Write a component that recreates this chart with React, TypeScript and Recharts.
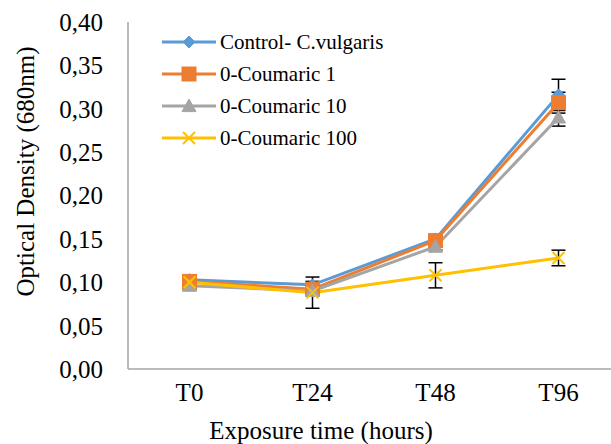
import React from 'react';
import { LineChart, Line, XAxis, YAxis, ErrorBar } from 'recharts';

const categories = ['T0', 'T24', 'T48', 'T96'];
const controlValues = [0.103, 0.097, 0.150, 0.316];
const coumaric1Values = [0.101, 0.092, 0.148, 0.307];
const coumaric10Values = [0.096, 0.090, 0.141, 0.290];
const coumaric100Values = [0.100, 0.088, 0.108, 0.128];
const controlErrors = [0.004, 0.004, 0.004, 0.018];
const coumaric1Errors = [0.004, 0.004, 0.004, 0.012];
const coumaric10Errors = [0.004, 0.004, 0.004, 0.010];
const coumaric100Errors = [0.003, 0.018, 0.0145, 0.009];
const yTicks = [0, 0.05, 0.1, 0.15, 0.2, 0.25, 0.3, 0.35, 0.4];

const seriesNames = ['Control- C.vulgaris', '0-Coumaric 1', '0-Coumaric 10', '0-Coumaric 100'];
const colors = ['#5B9BD5', '#ED7D31', '#A5A5A5', '#FFC000'];
const markers = ['diamond', 'square', 'triangle', 'x'];

const data = categories.map((c, i) => ({
  cat: c,
  s0: controlValues[i],
  s1: coumaric1Values[i],
  s2: coumaric10Values[i],
  s3: coumaric100Values[i],
  e0: controlErrors[i],
  e1: coumaric1Errors[i],
  e2: coumaric10Errors[i],
  e3: coumaric100Errors[i],
}));

const FONT = '"Liberation Serif", "Times New Roman", serif';

function Marker({ kind, cx, cy, color }: { kind: string; cx: number; cy: number; color: string }) {
  if (cx == null || cy == null) return null;
  if (kind === 'diamond') {
    const r = 6;
    return <polygon points={`${cx},${cy - r} ${cx + r},${cy} ${cx},${cy + r} ${cx - r},${cy}`} fill={color} stroke={color} strokeWidth={1} />;
  }
  if (kind === 'square') {
    const r = 7;
    return <rect x={cx - r} y={cy - r} width={2 * r} height={2 * r} fill={color} stroke={color} />;
  }
  if (kind === 'triangle') {
    const r = 7;
    return <polygon points={`${cx},${cy - r} ${cx + r},${cy + r * 0.8} ${cx - r},${cy + r * 0.8}`} fill={color} stroke={color} />;
  }
  const r = 6;
  return (
    <g stroke={color} strokeWidth={2}>
      <line x1={cx - r} y1={cy - r} x2={cx + r} y2={cy + r} />
      <line x1={cx - r} y1={cy + r} x2={cx + r} y2={cy - r} />
    </g>
  );
}

const makeDot = (idx: number) => (props: any) => (
  <Marker key={`m${idx}-${props.index}`} kind={markers[idx]} cx={props.cx} cy={props.cy} color={colors[idx]} />
);

const YLabel = (props: any) => {
  const vb = props.viewBox || { x: 0, y: 22, width: 128, height: 347 };
  const cx = vb.x + 25;
  const cy = vb.y + vb.height / 2 - 24;
  return (
    <text x={cx} y={cy} transform={`rotate(-90, ${cx}, ${cy})`} textAnchor="middle" dominantBaseline="central"
      fontFamily={FONT} fontSize={25} fill="#000">
      Optical Density (680nm)
    </text>
  );
};

const XLabel = (props: any) => {
  const vb = props.viewBox || { x: 128, y: 369, width: 492, height: 75 };
  const cx = vb.x + vb.width / 2 - 53;
  const cy = vb.y + 61;
  return (
    <text x={cx} y={cy} textAnchor="middle" dominantBaseline="central" fontFamily={FONT} fontSize={25} fill="#000">
      Exposure time (hours)
    </text>
  );
};

const LegendBox = () => (
  <div style={{ position: 'absolute', left: 160, top: 26, fontFamily: FONT, fontSize: 21, color: '#000', lineHeight: '32px' }}>
    {seriesNames.map((n, i) => (
      <div key={n} style={{ display: 'flex', alignItems: 'center', height: 32 }}>
        <svg width={58} height={20} style={{ marginRight: 2 }}>
          <line x1={2} y1={10} x2={56} y2={10} stroke={colors[i]} strokeWidth={3} />
          <Marker kind={markers[i]} cx={29} cy={10} color={colors[i]} />
        </svg>
        <span style={{ whiteSpace: 'nowrap' }}>{n}</span>
      </div>
    ))}
  </div>
);

export default function App() {
  return (
    <div style={{ position: 'fixed', left: 0, top: 0, width: 611, height: 444, overflow: 'hidden', background: '#fff' }}>
      <LineChart width={640} height={444} data={data} margin={{ top: 22, right: 20, bottom: 0, left: 0 }}>
        <XAxis
          dataKey="cat"
          height={75}
          interval={0}
          padding={{ left: 61.5, right: 61.5 }}
          tickLine={false}
          tickSize={0}
          tickMargin={14}
          axisLine={{ stroke: '#A6A6A6', strokeWidth: 1.5 }}
          tick={{ fontFamily: FONT, fontSize: 25, fill: '#000' }}
          label={<XLabel />}
        />
        <YAxis
          width={128}
          domain={[0, 0.4]}
          ticks={yTicks}
          interval={0}
          tickLine={false}
          tickSize={0}
          tickMargin={25}
          axisLine={{ stroke: '#A6A6A6', strokeWidth: 1.5 }}
          tick={{ fontFamily: FONT, fontSize: 25, fill: '#000' }}
          tickFormatter={(v: number) => v.toFixed(2).replace('.', ',')}
          label={<YLabel />}
        />
        {[0, 1, 2, 3].map((i) => (
          <Line
            key={i}
            type="linear"
            dataKey={`s${i}`}
            name={seriesNames[i]}
            stroke={colors[i]}
            strokeWidth={3}
            dot={makeDot(i)}
            activeDot={false}
            isAnimationActive={false}
          >
            <ErrorBar dataKey={`e${i}`} width={7} stroke="#000" strokeWidth={1.5} direction="y" />
          </Line>
        ))}
      </LineChart>
      <LegendBox />
    </div>
  );
}
